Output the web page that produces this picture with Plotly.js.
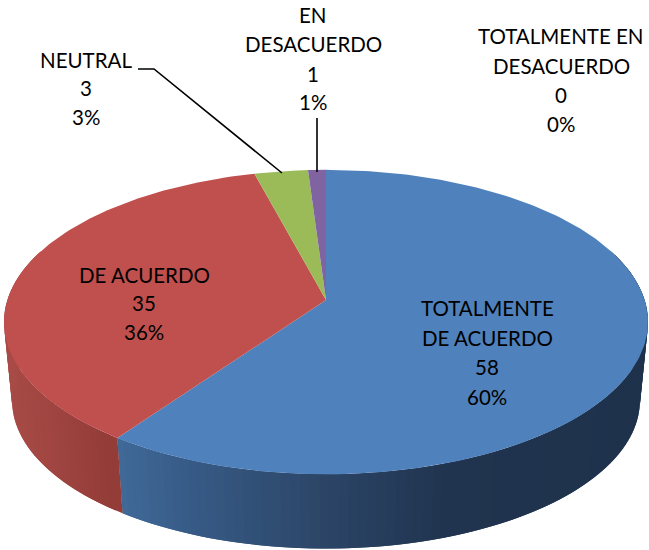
<!DOCTYPE html>
<html>
<head>
<meta charset="utf-8">
<script src="https://cdn.plot.ly/plotly-3.0.1.min.js"></script>
<style>html,body{margin:0;padding:0;background:#fff}#c{width:649px;height:550px}</style>
</head>
<body>
<div id="c"></div>
<script>
// Data
var categories = ['TOTALMENTE DE ACUERDO', 'DE ACUERDO', 'NEUTRAL', 'EN DESACUERDO', 'TOTALMENTE EN DESACUERDO'];
var values = [58, 35, 3, 1, 0];
var labelLines = [['TOTALMENTE', 'DE ACUERDO'], ['DE ACUERDO'], ['NEUTRAL'], ['EN', 'DESACUERDO'], ['TOTALMENTE EN', 'DESACUERDO']];
var topColors = ['#4f81bd', '#c0504d', '#9bbb59', '#8064a2', '#4bacc6'];
var labelX = [487, 144, 86, 313, 561];
var labelY = [[308, 338, 367, 397], [275, 303, 332], [60, 88, 117], [15, 44, 74, 102], [36, 66, 95, 124]];

// Projection of the tilted disc
var K = 0.145, CX = 326, RX = 318.6;
var topFace = {s: 1, y0: 300, r: 149};
var botFace = {s: 0.975, y0: 379, r: 145};
function project(deg, f) {
  var t = deg * Math.PI / 180, u = Math.sin(t), v = Math.cos(t), w = 1 + K * v;
  return [CX + f.s * RX * u / w, f.y0 - f.r * v / w];
}
var total = values.reduce(function (a, b) { return a + b; }, 0);

function lerpStops(stops, x) {
  if (x <= stops[0][0]) return stops[0][1];
  for (var i = 1; i < stops.length; i++) {
    if (x <= stops[i][0]) {
      var a = stops[i - 1], b = stops[i], m = (x - a[0]) / (b[0] - a[0]);
      return [0, 1, 2].map(function (k) { return Math.round(a[1][k] + (b[1][k] - a[1][k]) * m); });
    }
  }
  return stops[stops.length - 1][1];
}
function toRgb(c) { return 'rgb(' + c.join(',') + ')'; }
var sideStops = [
  [[118, [66, 107, 155]], [200, [54, 90, 133]], [330, [44, 69, 103]], [450, [32, 52, 79]], [640, [31, 50, 76]]],
  [[13, [168, 75, 71]], [60, [160, 69, 65]], [118, [147, 60, 56]]]
];

var traces = [];
function poly(xs, ys, color) {
  traces.push({type: 'scatter', mode: 'lines', x: xs, y: ys, fill: 'toself', fillcolor: color,
    line: {color: color, width: 0}, hoverinfo: 'skip', showlegend: false});
}

// Side wall (overlapping strips), painted first
var ang = 0, slices = [];
values.forEach(function (v, i) { var a = v / total * 360; slices.push([ang, ang + a, i]); ang += a; });
slices.forEach(function (sl) {
  var i = sl[2];
  if (i > 1) return;
  var from = Math.max(sl[0], 70), to = Math.min(sl[1], 290), step = 1.5;
  for (var d = from; d < to; d += step) {
    var e = Math.min(d + step * 2, to);
    var a = project(d, topFace), b = project(e, topFace), c = project(e, botFace), g = project(d, botFace);
    var col = toRgb(lerpStops(sideStops[i], g[0]));
    poly([a[0], b[0], c[0], g[0], a[0]], [a[1], b[1], c[1], g[1], a[1]], col);
  }
});

// Top face
var centre = [CX, project(90, topFace)[1]];
slices.forEach(function (sl) {
  if (sl[1] <= sl[0]) return;
  var xs = [centre[0]], ys = [centre[1]];
  for (var d = sl[0]; d < sl[1]; d += 1) { var p = project(d, topFace); xs.push(p[0]); ys.push(p[1]); }
  var q = project(sl[1], topFace); xs.push(q[0], centre[0]); ys.push(q[1], centre[1]);
  poly(xs, ys, topColors[sl[2]]);
});

// Leader lines
var leaderNeutralX = [138, 154, 282], leaderNeutralY = [69, 69, 173];
var leaderEnX = [317, 317], leaderEnY = [118, 172];
[[leaderNeutralX, leaderNeutralY], [leaderEnX, leaderEnY]].forEach(function (l) {
  traces.push({type: 'scatter', mode: 'lines', x: l[0], y: l[1], line: {color: '#000', width: 1.6}, hoverinfo: 'skip', showlegend: false});
});

// Labels
var annotations = [];
categories.forEach(function (c, i) {
  var lines = labelLines[i].concat([String(values[i]), Math.round(values[i] / total * 100) + '%']);
  lines.forEach(function (t, j) {
    annotations.push({x: labelX[i], y: labelY[i][j], xref: 'x', yref: 'y', text: t, showarrow: false,
      xanchor: 'center', yanchor: 'middle', font: {family: 'Lato, Carlito, sans-serif', size: 20.5, color: '#000'}});
  });
});

Plotly.newPlot('c', traces, {
  width: 649, height: 550, margin: {l: 0, r: 0, t: 0, b: 0},
  paper_bgcolor: '#fff', plot_bgcolor: '#fff', showlegend: false,
  xaxis: {range: [0, 649], visible: false, fixedrange: true},
  yaxis: {range: [550, 0], visible: false, fixedrange: true},
  annotations: annotations
}, {displayModeBar: false, staticPlot: true});
</script>
</body>
</html>
